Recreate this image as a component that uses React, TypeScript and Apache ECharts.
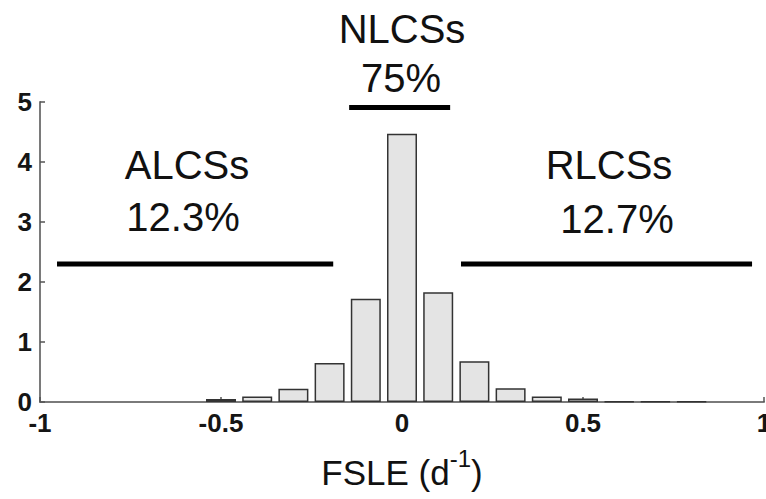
import React, { useEffect, useRef } from "react";
import * as echarts from "echarts";

// Histogram bins (FSLE, d^-1) and their values
const binCenters = [-0.5, -0.4, -0.3, -0.2, -0.1, 0, 0.1, 0.2, 0.3, 0.4, 0.5, 0.6, 0.7, 0.8];
const binValues = [0.05, 0.09, 0.22, 0.65, 1.72, 4.47, 1.83, 0.68, 0.23, 0.09, 0.06, 0.01, 0.01, 0.01];

// Class range bars (x start, x end, y level)
const alcsRange = [-0.953, -0.19, 2.3];
const nlcsRange = [-0.146, 0.133, 4.91];
const rlcsRange = [0.163, 0.967, 2.3];

// Class labels
const classNames = ["ALCSs", "NLCSs", "RLCSs"];
const classShares = ["12.3%", "75%", "12.7%"];

const FONT = "'Liberation Sans', Arial, sans-serif";

export default function App() {
  const ref = useRef<HTMLDivElement>(null);
  useEffect(() => {
    if (!ref.current) return;
    const chart = echarts.init(ref.current, null, { renderer: "svg" });
    const rangeSeries = (r: number[]) => ({
      type: "line",
      data: [
        [r[0], r[2]],
        [r[1], r[2]],
      ],
      symbol: "none",
      lineStyle: { color: "#000", width: 5, cap: "butt" },
      silent: true,
      z: 5,
    });
    chart.setOption({
      animation: false,
      backgroundColor: "#fff",
      textStyle: { fontFamily: FONT },
      grid: {
        left: 40,
        top: 102,
        width: 724,
        height: 300,
        containLabel: false,
        outerBoundsMode: "none",
      },
      xAxis: {
        type: "value",
        min: -1,
        max: 1,
        interval: 0.5,
        splitLine: { show: false },
        axisLine: { show: true, onZero: false, lineStyle: { color: "#7a7a7a", width: 2 } },
        axisTick: { show: true, inside: true, length: 5, lineStyle: { color: "#555", width: 1.5 } },
        axisLabel: {
          color: "#151515",
          fontSize: 26,
          fontWeight: "bold",
          fontFamily: FONT,
          margin: 8,
          showMaxLabel: true,
          showMinLabel: true,
        },
        name: "{n|FSLE (d}{s|-1}{n|)}",
        nameLocation: "middle",
        nameGap: 44,
        nameTextStyle: {
          rich: {
            n: { fontSize: 35, fontFamily: FONT, color: "#111", lineHeight: 44, verticalAlign: "bottom" },
            s: { fontSize: 24, fontFamily: FONT, color: "#111", verticalAlign: "top", lineHeight: 44 },
          },
        },
      },
      yAxis: {
        type: "value",
        min: 0,
        max: 5,
        interval: 1,
        splitLine: { show: false },
        axisLine: { show: true, onZero: false, lineStyle: { color: "#7a7a7a", width: 2 } },
        axisTick: { show: true, inside: true, length: 5, lineStyle: { color: "#555", width: 1.5 } },
        axisLabel: {
          color: "#151515",
          fontSize: 26,
          fontWeight: "bold",
          fontFamily: FONT,
          margin: 8,
        },
      },
      series: [
        {
          type: "bar",
          data: binCenters.map((c, i) => [c, binValues[i]]),
          barWidth: 30,
          itemStyle: { color: "#e4e4e4", borderColor: "#333", borderWidth: 1.5 },
          z: 3,
        },
        rangeSeries(alcsRange),
        rangeSeries(nlcsRange),
        rangeSeries(rlcsRange),
      ],
      graphic: [
        { type: "text", x: 187, y: 165, style: { text: classNames[0], font: `40px ${FONT}`, fill: "#111", textAlign: "center", textVerticalAlign: "middle" } },
        { type: "text", x: 183, y: 217, style: { text: classShares[0], font: `40px ${FONT}`, fill: "#111", textAlign: "center", textVerticalAlign: "middle" } },
        { type: "text", x: 402, y: 29, style: { text: classNames[1], font: `40px ${FONT}`, fill: "#111", textAlign: "center", textVerticalAlign: "middle" } },
        { type: "text", x: 401, y: 78, style: { text: classShares[1], font: `40px ${FONT}`, fill: "#111", textAlign: "center", textVerticalAlign: "middle" } },
        { type: "text", x: 609, y: 165, style: { text: classNames[2], font: `40px ${FONT}`, fill: "#111", textAlign: "center", textVerticalAlign: "middle" } },
        { type: "text", x: 617, y: 219, style: { text: classShares[2], font: `40px ${FONT}`, fill: "#111", textAlign: "center", textVerticalAlign: "middle" } },
      ],
    });
    return () => chart.dispose();
  }, []);
  return (
    <div
      ref={ref}
      style={{ position: "absolute", left: 0, top: 0, width: 766, height: 499 }}
    />
  );
}
